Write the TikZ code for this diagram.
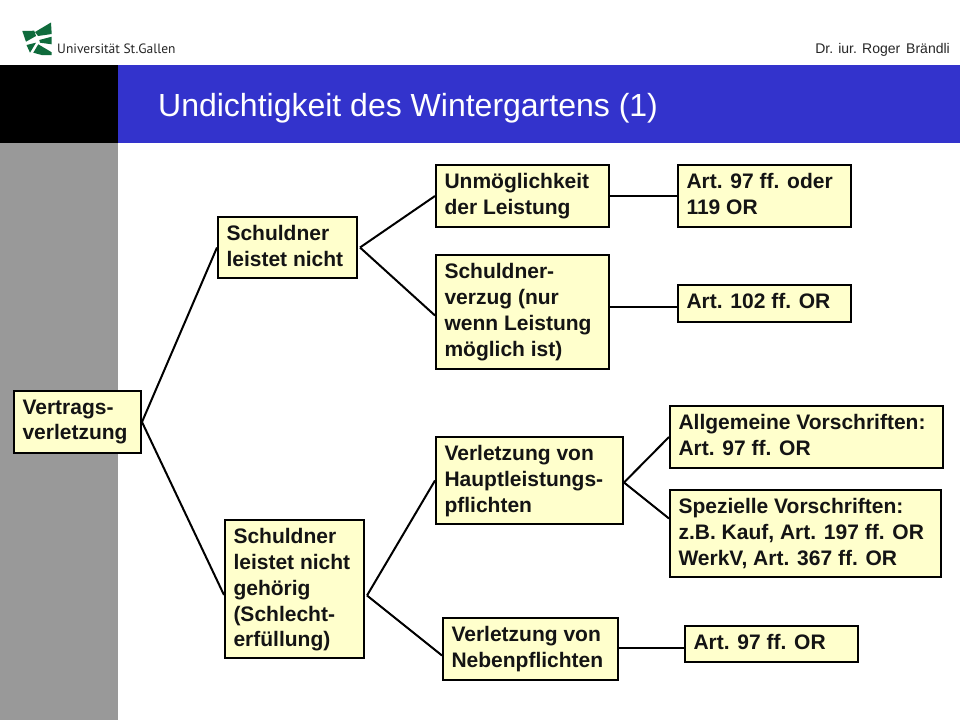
\documentclass[tikz,border=0pt]{standalone}
\usepackage{fontspec}
\setmainfont{Liberation Sans}
\newfontfamily\logofont{PT Sans}
\definecolor{boxfill}{HTML}{FFFFCC}
\definecolor{bandblue}{HTML}{3333CC}
\definecolor{sidegray}{HTML}{999999}
\definecolor{logogreen}{HTML}{0F6B3C}
\tikzset{
  x=1pt,y=-1pt,
  tbox/.style={draw=black,line width=2pt,fill=boxfill,inner sep=0pt,anchor=north west},
  tlabel/.style={anchor=north west,align=left,inner sep=0pt,font=\fontsize{21}{25.7}\selectfont\bfseries,text=black!92},
  link/.style={draw=black,line width=2pt},
  leaf/.style={fill=logogreen,draw=none}
}
\newcommand{\tb}[6]{% name,x1,y1,x2,y2,text
  \pgfmathsetmacro{\boxw}{#4-#2-1}\pgfmathsetmacro{\boxh}{#5-#3-1}
  \node[tbox,minimum width=\boxw pt,minimum height=\boxh pt] (#1) at (#2,#3) {};
  \node[tlabel] (#1t) at (#2+9.3,#3+9.5) {#6};
}
\begin{document}
\begin{tikzpicture}
\useasboundingbox (0,0) rectangle (960,720);
\fill[white] (0,0) rectangle (960,720);
\fill[black] (0,65) rectangle (118,143);
\fill[bandblue] (118,65) rectangle (960,143);
\fill[sidegray] (0,143) rectangle (118,720);
\node[anchor=west,inner sep=0pt,text=white,font=\fontsize{32}{34}\selectfont] (title) at (158,108) {Undichtigkeit des Wintergartens (1)};
\node[anchor=east,inner sep=0pt,font=\fontsize{14}{15}\selectfont,text=black!85] (author) at (950,49.5) {Dr. iur. Roger\hspace{2pt} Brändli};
\node[anchor=west,inner sep=0pt,font=\logofont\fontsize{13.5}{16}\selectfont,text=black!85] (logotext) at (57,48.5) {Universität St.Gallen};
% logo
\fill[leaf] (22.3,31) -- (34.3,30.7) -- (36,36) -- (26,41.7) -- cycle;
\fill[leaf] (35,32) -- (51,22.5) -- (51.7,34) -- (38,36) -- cycle;
\fill[leaf] (39.3,40) -- (51.7,36.7) -- (51.7,44.3) -- (40,42.7) -- cycle;
\fill[leaf] (38.3,44.3) -- (51.7,52.3) -- (51.7,55) -- (41.7,55) -- (33.3,52.7) -- cycle;
\fill[leaf] (36,42.7) -- (30,52.7) -- (26.5,45) -- cycle;
% boxes
\tb{vv}{13}{390}{141}{453}{Vertrags-\\verletzung}
\tb{sn}{217}{216}{357}{278}{Schuldner\\leistet nicht}
\tb{sg}{224}{519}{364}{658}{Schuldner\\leistet nicht\\gehörig\\(Schlecht-\\erfüllung)}
\tb{um}{435}{164}{609}{227}{Unmöglichkeit\\der Leistung}
\tb{sv}{435}{254}{609}{369}{Schuldner-\\verzug (nur\\wenn Leistung\\möglich ist)}
\tb{vh}{435}{436}{623}{524}{Verletzung von\\Hauptleistungs-\\pflichten}
\tb{vn}{442}{617}{618}{680}{Verletzung von\\Nebenpflichten}
\tb{aa}{677}{164}{851}{227}{Art. 97 ff. oder\\119 OR}
\tb{ab}{677}{284}{851}{322}{Art. 102 ff. OR}
\tb{av}{669}{405}{943}{468}{Allgemeine Vorschriften:\\Art. 97 ff. OR}
\tb{sp}{669}{489}{941}{577}{Spezielle Vorschriften:\\z.B. Kauf, Art. 197 ff. OR\\WerkV, Art. 367 ff. OR}
\tb{ac}{684}{625}{858}{662}{Art. 97 ff. OR}
% connectors
\draw[link] (vv.east) -- (sn.west);
\draw[link] (vv.east) -- ([yshift=-6pt]sg.west);
\draw[link] ([xshift=2pt]sn.east) -- (um.west);
\draw[link] ([xshift=2pt]sn.east) -- ([yshift=-3.5pt]sv.west);
\draw[link] ([xshift=2pt,yshift=-6.5pt]sg.east) -- (vh.west);
\draw[link] ([xshift=2pt,yshift=-6.5pt]sg.east) -- ([yshift=-6.5pt]vn.west);
\draw[link] ([yshift=-2pt]vh.east) -- (av.west);
\draw[link] ([yshift=-2pt]vh.east) -- ([yshift=15pt]sp.west);
\draw[link] (um.east) -- (aa.west);
\draw[link] ([yshift=5.5pt]sv.east) -- ([yshift=-3pt]ab.west);
\draw[link] ([yshift=1.5pt]vn.east) -- ([yshift=-3.5pt]ac.west);
\end{tikzpicture}
\end{document}
